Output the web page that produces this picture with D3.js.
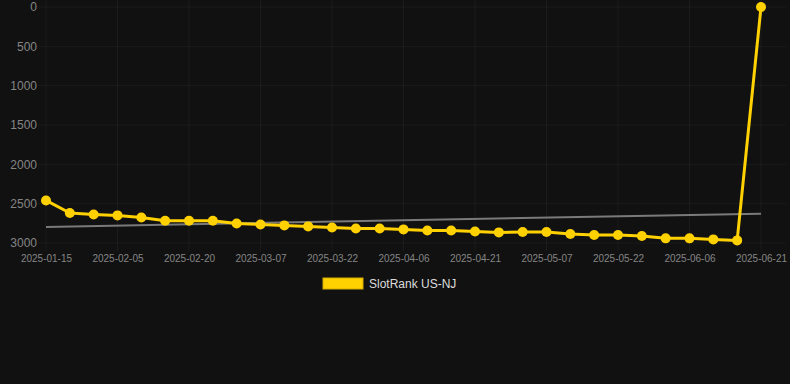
<!DOCTYPE html>
<html>
<head>
<meta charset="utf-8">
<script src="https://cdn.jsdelivr.net/npm/d3@7"></script>
<style>
  html, body { margin: 0; padding: 0; background: #111111; }
  svg { display: block; font-family: "Liberation Sans", Arial, sans-serif; }
</style>
</head>
<body>
<svg id="chart" width="790" height="384"></svg>
<script>
// dates on the category axis (only every third one gets a label)
var dates = ["2025-01-15","2025-01-22","2025-01-29","2025-02-05","2025-02-10","2025-02-15",
  "2025-02-20","2025-02-25","2025-03-02","2025-03-07","2025-03-12","2025-03-17",
  "2025-03-22","2025-03-27","2025-04-01","2025-04-06","2025-04-11","2025-04-16",
  "2025-04-21","2025-04-26","2025-05-02","2025-05-07","2025-05-12","2025-05-17",
  "2025-05-22","2025-05-27","2025-06-01","2025-06-06","2025-06-11","2025-06-16","2025-06-21"];

var rank = [2459, 2619, 2637, 2649, 2675, 2717, 2717, 2717, 2751, 2764, 2776,
  2789, 2802, 2815, 2815, 2827, 2840, 2840, 2853, 2865, 2860, 2860,
  2886, 2898, 2898, 2911, 2941, 2941, 2954, 2967, 1];

var yTicks = [0, 500, 1000, 1500, 2000, 2500, 3000];
var seriesName = "SlotRank US-NJ";

var svg = d3.select("#chart");
var margin = {left: 46, right: 29, top: 7, bottom: 141};
var width = +svg.attr("width");
var height = +svg.attr("height");

var x = d3.scalePoint().domain(dates).range([margin.left, width - margin.right]);
var y = d3.scaleLinear().domain([0, 3000]).range([margin.top, height - margin.bottom]);

var gridColor = "rgba(255,255,255,0.045)";
var tickColor = "#858585";
var yellow = "#ffd100";

// grid
var labelled = dates.filter((d, i) => i % 3 == 0);
svg.append("g").selectAll("line").data(labelled).enter().append("line")
  .attr("x1", d => x(d)).attr("x2", d => x(d))
  .attr("y1", 0).attr("y2", height - margin.bottom + 8)
  .attr("stroke", gridColor);
svg.append("g").selectAll("line").data(yTicks).enter().append("line")
  .attr("x1", margin.left - 8).attr("x2", width - 4)
  .attr("y1", d => y(d)).attr("y2", d => y(d))
  .attr("stroke", gridColor);

// axes
var yAxis = svg.append("g")
  .attr("transform", "translate(" + (margin.left - 9) + ",0)")
  .call(d3.axisLeft(y).tickValues(yTicks).tickFormat(d3.format("d")).tickSize(0).tickPadding(0));
yAxis.select(".domain").remove();
yAxis.selectAll("text").attr("fill", tickColor).attr("font-size", 12)
  .attr("font-family", "Liberation Sans, Arial, sans-serif");

var xAxis = svg.append("g")
  .attr("transform", "translate(0," + (height - margin.bottom + 8) + ")")
  .call(d3.axisBottom(x).tickValues(labelled).tickSize(0).tickPadding(4));
xAxis.select(".domain").remove();
xAxis.selectAll("text").attr("fill", tickColor).attr("font-size", 10)
  .attr("font-family", "Liberation Sans, Arial, sans-serif");

// trend line (least squares over the series)
var n = rank.length;
var mx = d3.mean(rank, (d, i) => i);
var my = d3.mean(rank);
var sxy = d3.sum(rank, (d, i) => (i - mx) * (d - my));
var sxx = d3.sum(rank, (d, i) => (i - mx) * (i - mx));
var slope = sxy / sxx;
var trend = [0, n - 1].map(i => ({i: i, v: my + slope * (i - mx)}));
svg.append("path")
  .datum(trend)
  .attr("fill", "none")
  .attr("stroke", "#7a7a7a")
  .attr("stroke-width", 2)
  .attr("d", d3.line().x(d => x(dates[d.i])).y(d => y(d.v)));

// series
var pts = rank.map((v, i) => ({d: dates[i], v: v}));
svg.append("path")
  .datum(pts)
  .attr("fill", "none")
  .attr("stroke", yellow)
  .attr("stroke-width", 3)
  .attr("stroke-linejoin", "round")
  .attr("d", d3.line().x(d => x(d.d)).y(d => y(d.v)));

svg.append("g").selectAll("circle").data(pts).enter().append("circle")
  .attr("cx", d => x(d.d))
  .attr("cy", d => y(d.v))
  .attr("r", 5)
  .attr("fill", yellow);

// legend
var legend = svg.append("g").attr("transform", "translate(323,278)");
legend.append("rect")
  .attr("width", 40).attr("height", 11)
  .attr("fill", yellow)
  .attr("stroke", "#d4a900").attr("stroke-width", 1);
legend.append("text")
  .attr("x", 46).attr("y", 10)
  .attr("fill", "#dddddd")
  .attr("font-size", 12)
  .text(seriesName);
</script>
</body>
</html>
